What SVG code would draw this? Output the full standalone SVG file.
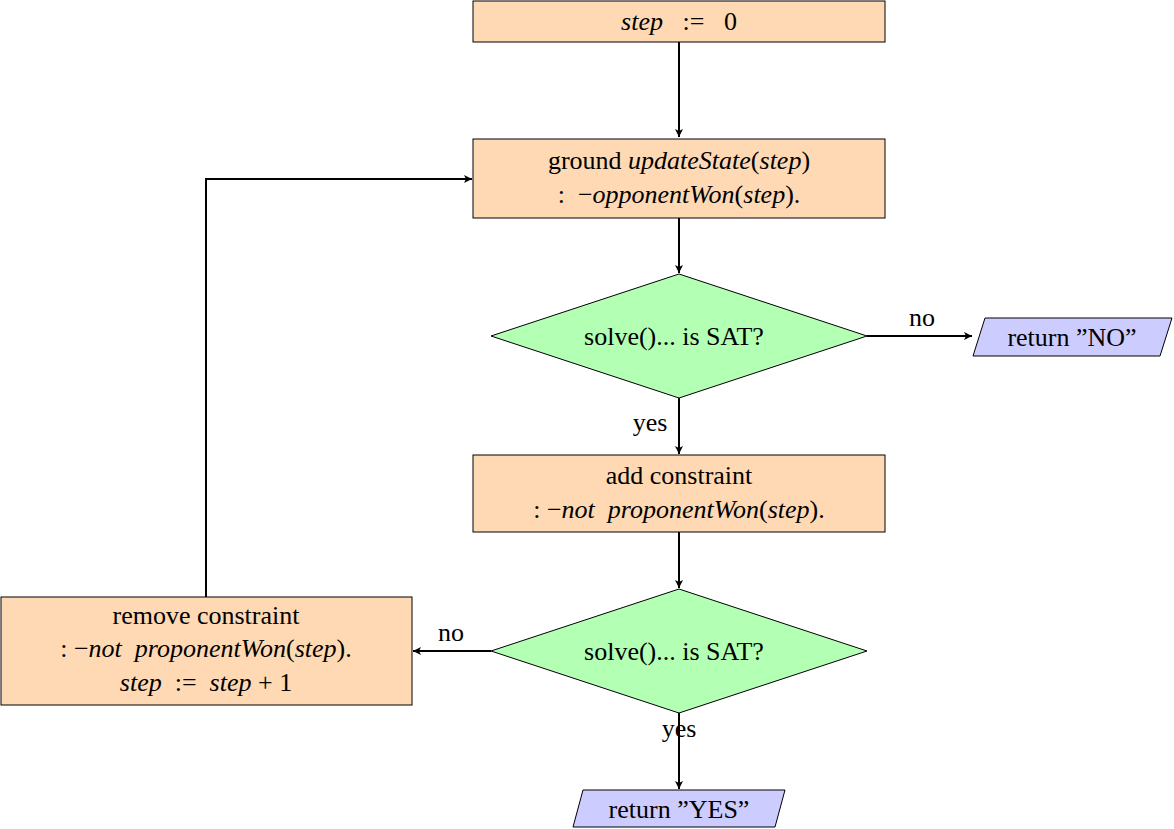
<svg xmlns="http://www.w3.org/2000/svg" width="1174" height="829" viewBox="0 0 1174 829">
<style>
text{font-size:26px;fill:#000;text-anchor:middle;white-space:pre}
.i{font-style:italic}
.proc{fill:#FFD9B3;stroke:#000;stroke-width:1}
.dec{fill:#B3FFB3;stroke:#000;stroke-width:1}
.io{fill:#CCCCFF;stroke:#000;stroke-width:1}
.c{fill:none;stroke:#000;stroke-width:2}
</style>
<defs>
<marker id="ah" markerWidth="10" markerHeight="10" refX="9" refY="5" orient="auto" markerUnits="userSpaceOnUse">
<path d="M1,1 L9,5 L1,9 L3,5 Z" fill="#000"/>
</marker>
</defs>
<g font-family="Liberation Serif, DejaVu Serif, serif">
<g id="connectors">
<line class="c" x1="679" y1="42" x2="679" y2="137" marker-end="url(#ah)"/>
<line class="c" x1="679" y1="218" x2="679" y2="273" marker-end="url(#ah)"/>
<line class="c" x1="867" y1="336" x2="972" y2="336" marker-end="url(#ah)"/>
<text x="922" y="326">no</text>
<line class="c" x1="679" y1="398" x2="679" y2="454" marker-end="url(#ah)"/>
<text x="650" y="431">yes</text>
<line class="c" x1="679" y1="532" x2="679" y2="588" marker-end="url(#ah)"/>
<line class="c" x1="491" y1="651" x2="413" y2="651" marker-end="url(#ah)"/>
<text x="451" y="641">no</text>
<line class="c" x1="679" y1="713" x2="679" y2="789" marker-end="url(#ah)"/>
<text x="679" y="737">yes</text>
<polyline class="c" points="206,597 206,179 472,179" marker-end="url(#ah)"/>
</g>
<g id="n1">
<rect class="proc" x="473" y="1" width="412" height="41"/>
<text x="679" y="30"><tspan class="i">step</tspan>   :=   0</text>
</g>
<g id="n2">
<rect class="proc" x="473" y="139" width="412" height="79"/>
<text x="679" y="169">ground <tspan class="i">updateState</tspan>(<tspan class="i">step</tspan>)</text>
<text x="679" y="203">:  −<tspan class="i">opponentWon</tspan>(<tspan class="i">step</tspan>).</text>
</g>
<g id="d1">
<polygon class="dec" points="679,274 867,336 679,398 491,336"/>
<text x="674" y="345">solve()... is SAT?</text>
</g>
<g id="no">
<polygon class="io" points="985,318 1172,318 1160,356 973,356"/>
<text x="1072" y="346">return ”NO”</text>
</g>
<g id="n3">
<rect class="proc" x="473" y="455" width="412" height="77"/>
<text x="679" y="484">add constraint</text>
<text x="679" y="518">: −<tspan class="i">not  proponentWon</tspan>(<tspan class="i">step</tspan>).</text>
</g>
<g id="d2">
<polygon class="dec" points="679,589 867,651 679,713 491,651"/>
<text x="674" y="660">solve()... is SAT?</text>
</g>
<g id="n4">
<rect class="proc" x="1" y="597" width="411" height="108"/>
<text x="206" y="624">remove constraint</text>
<text x="206" y="657">: −<tspan class="i">not  proponentWon</tspan>(<tspan class="i">step</tspan>).</text>
<text x="206" y="691"><tspan class="i">step</tspan>  :=  <tspan class="i">step</tspan> + 1</text>
</g>
<g id="yes">
<polygon class="io" points="583,790 785,790 775,827 573,827"/>
<text x="679" y="818">return ”YES”</text>
</g>
</g>
</svg>
